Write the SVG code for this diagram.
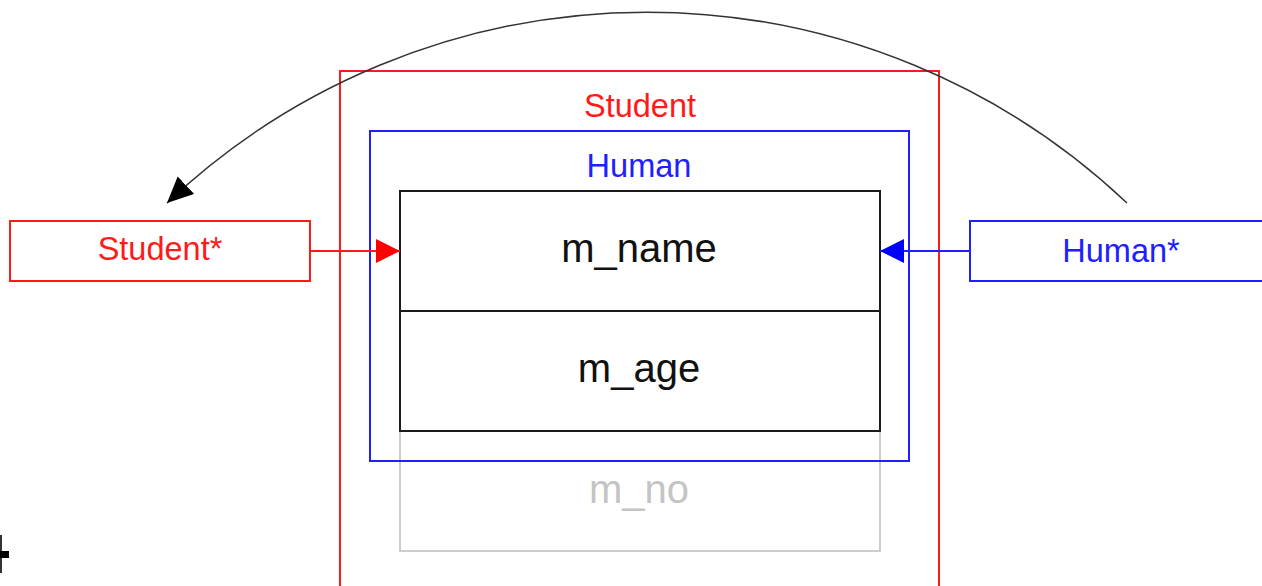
<svg xmlns="http://www.w3.org/2000/svg" width="1262" height="586" viewBox="0 0 1262 586">
<style>
text{font-family:"Liberation Sans",Arial,sans-serif;text-anchor:middle}
.red{stroke:#ff1a1a;fill:none;stroke-width:2}
.blue{stroke:#2020ff;fill:none;stroke-width:2}
.blk{stroke:#1a1a1a;fill:none;stroke-width:2}
.gray{stroke:#cccccc;fill:none;stroke-width:2}
.tr{fill:#ff1a1a;font-size:32.5px}
.tb{fill:#2020ff;font-size:32.5px}
.tk{fill:#111;font-size:40px}
.tg{fill:#c4c4c4;font-size:40px}
</style>
<defs>
<marker id="ar" markerUnits="userSpaceOnUse" markerWidth="26" markerHeight="26" refX="24" refY="12" orient="auto"><path d="M0,0 L24,12 L0,24 Z" fill="#ff0000"/></marker>
<marker id="ab" markerUnits="userSpaceOnUse" markerWidth="26" markerHeight="26" refX="24" refY="12" orient="auto"><path d="M0,0 L24,12 L0,24 Z" fill="#0000ff"/></marker>
<marker id="ak" markerUnits="userSpaceOnUse" markerWidth="28" markerHeight="28" refX="26" refY="12" orient="auto"><path d="M0,0 L26,12 L0,24 Z" fill="#000"/></marker>
</defs>
<rect width="1262" height="586" fill="#fff"/>
<g id="student-obj">
<rect class="red" x="340" y="71" width="599" height="530"/>
<text class="tr" x="640" y="117">Student</text>
</g>
<g id="m_no">
<rect class="gray" x="400" y="431" width="480" height="120"/>
<text class="tg" x="639" y="503">m_no</text>
</g>
<g id="human-obj">
<rect class="blue" x="370" y="131" width="539" height="330"/>
<text class="tb" x="639" y="177">Human</text>
</g>
<g id="m_name">
<rect class="blk" x="400" y="191" width="480" height="120"/>
<text class="tk" x="639" y="262">m_name</text>
</g>
<g id="m_age">
<rect class="blk" x="400" y="311" width="480" height="120"/>
<text class="tk" x="639" y="382">m_age</text>
</g>
<g id="student-ptr">
<rect class="red" x="10" y="221" width="300" height="60"/>
<text class="tr" x="160" y="260">Student*</text>
</g>
<g id="human-ptr">
<rect class="blue" x="970" y="221" width="320" height="60"/>
<text class="tb" x="1121" y="262">Human*</text>
</g>
<g id="connectors">
<line x1="310" y1="251" x2="400" y2="251" stroke="#ff1a1a" stroke-width="2" marker-end="url(#ar)"/>
<line x1="970" y1="251" x2="880" y2="251" stroke="#2020ff" stroke-width="2" marker-end="url(#ab)"/>
<path d="M1127,203 A699 699 0 0 0 167,203" fill="none" stroke="#333" stroke-width="1.5" marker-end="url(#ak)"/>
</g>
<g id="artifact">
<rect x="0" y="535" width="2" height="38" fill="#333"/>
<rect x="0" y="551" width="9" height="7" fill="#000"/>
</g>
</svg>
